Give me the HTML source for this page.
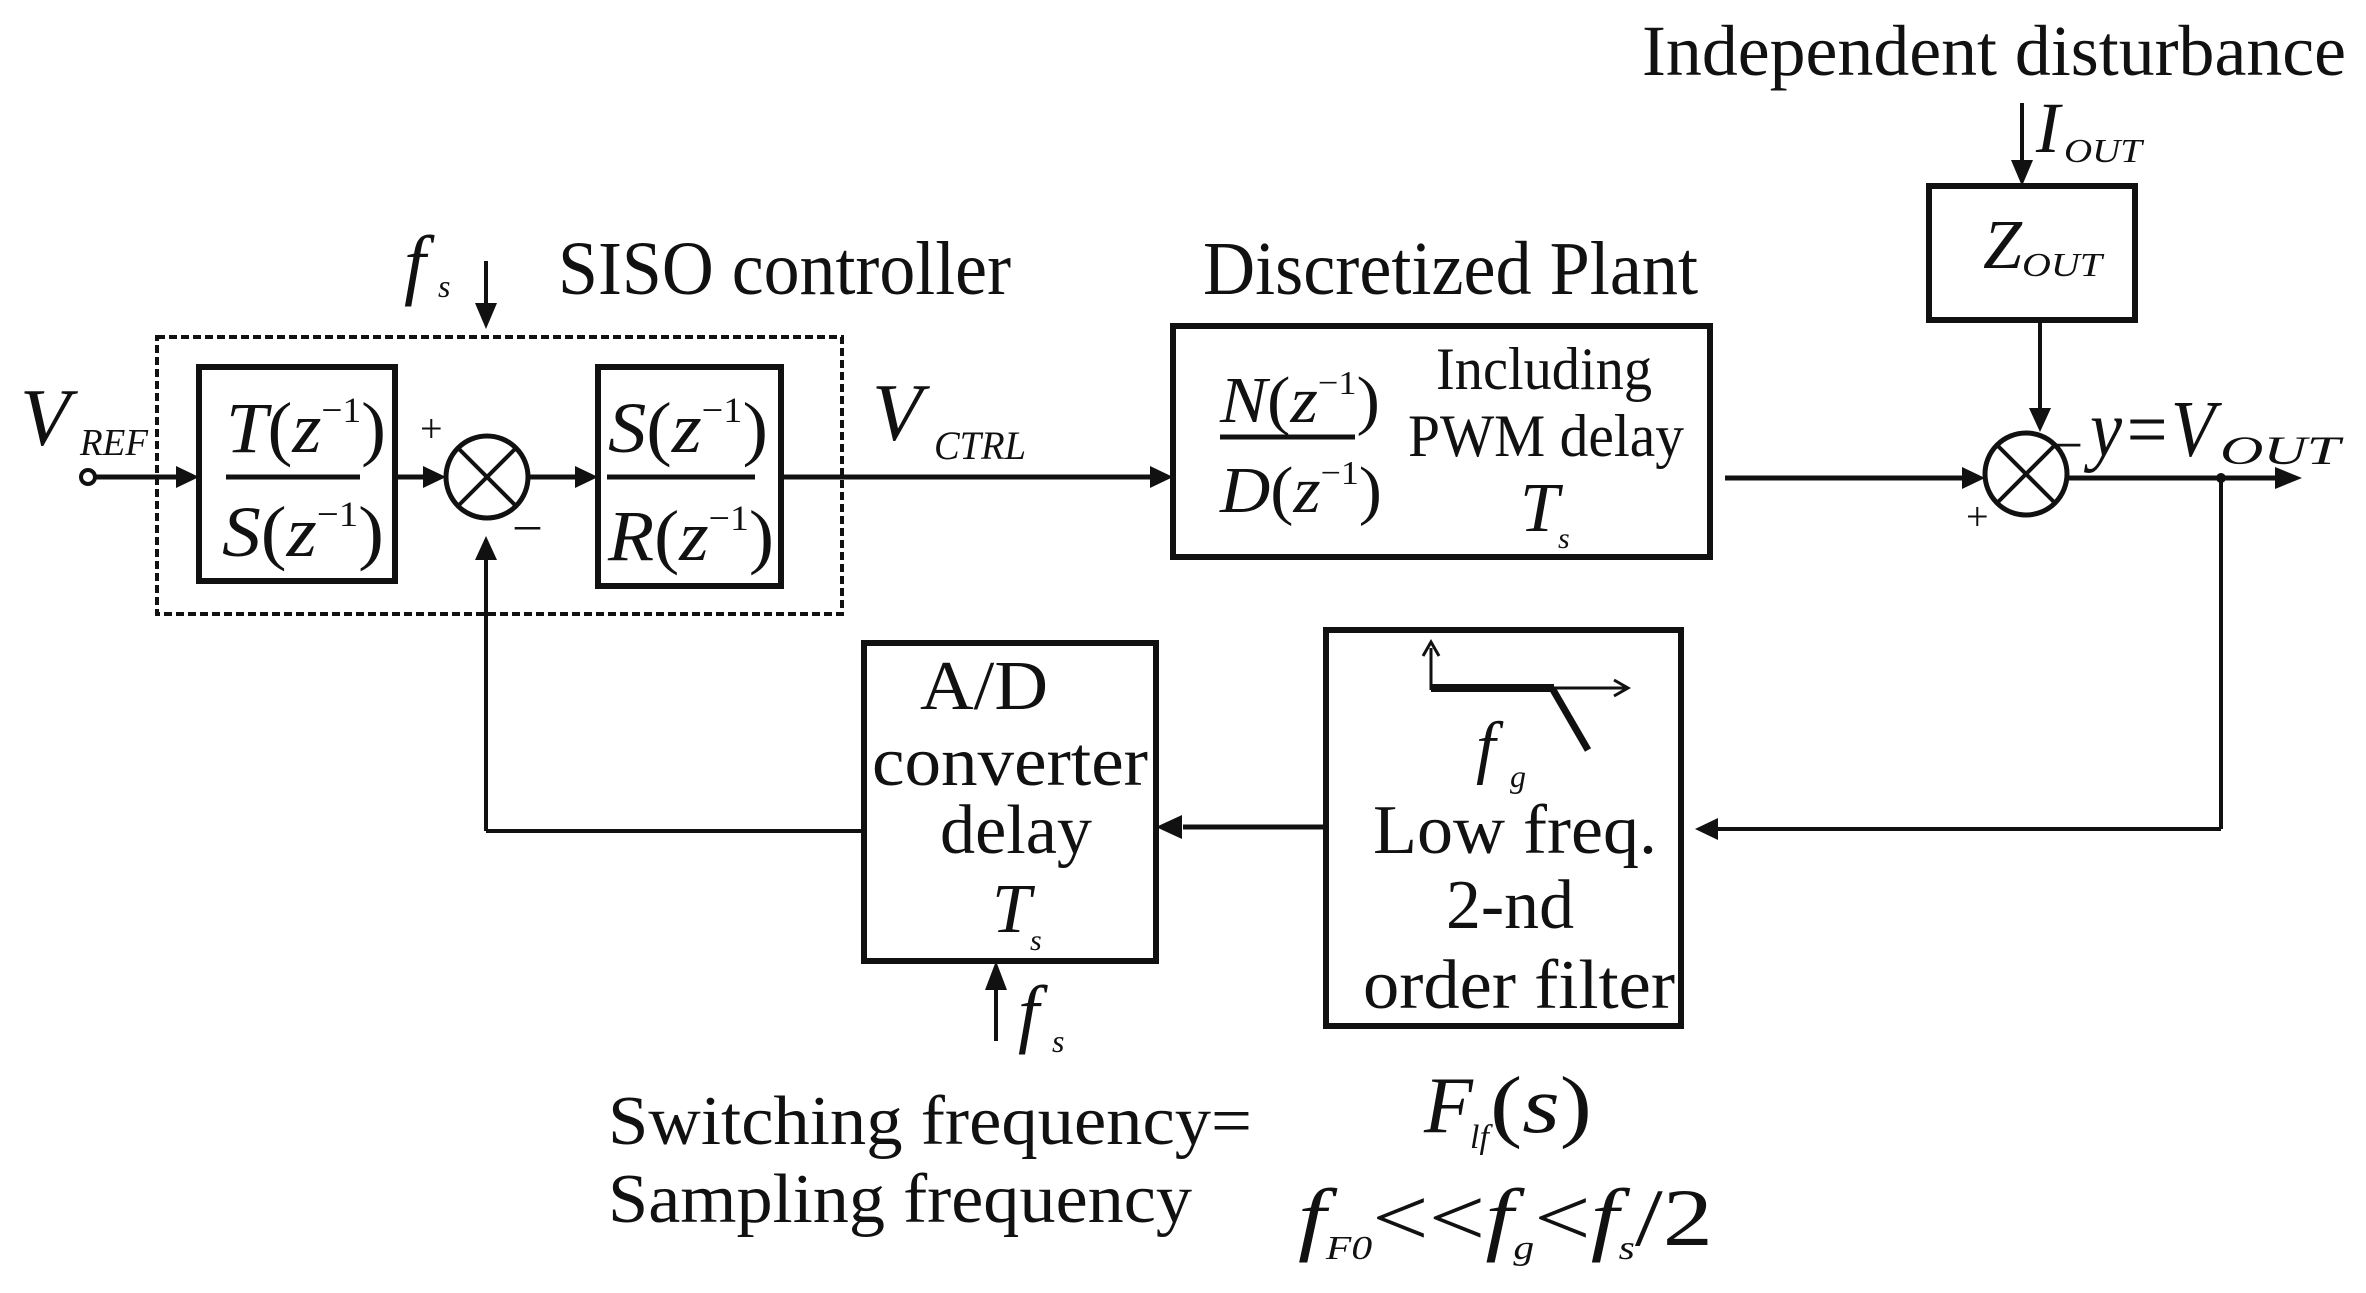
<!DOCTYPE html>
<html><head><meta charset="utf-8"><style>
html,body{margin:0;padding:0;background:#fff}
svg{display:block}
text{font-family:"Liberation Serif","Times New Roman",serif;fill:#111}
.i{font-style:italic}
</style></head><body>
<svg width="2366" height="1293" viewBox="0 0 2366 1293" xmlns="http://www.w3.org/2000/svg">
<g stroke="#111" fill="none" stroke-width="5">
<rect x="157" y="337" width="685" height="277" stroke-dasharray="8,4" stroke-width="4"/>
<rect x="199" y="367" width="196" height="214" stroke-width="6"/>
<rect x="598" y="367" width="183" height="219" stroke-width="6"/>
<rect x="1173" y="326" width="537" height="231" stroke-width="6"/>
<rect x="1929" y="186" width="206" height="134" stroke-width="6"/>
<rect x="1326" y="630" width="355" height="396" stroke-width="6"/>
<rect x="864" y="643" width="292" height="318" stroke-width="6"/>
<circle cx="487" cy="477" r="41"/>
<line x1="458" y1="448" x2="516" y2="506" stroke-width="4"/>
<line x1="516" y1="448" x2="458" y2="506" stroke-width="4"/>
<circle cx="2026" cy="474" r="41"/>
<line x1="1997" y1="445" x2="2055" y2="503" stroke-width="4"/>
<line x1="2055" y1="445" x2="1997" y2="503" stroke-width="4"/>
<line x1="93" y1="477" x2="185" y2="477"/>
<line x1="395" y1="477" x2="432" y2="477"/>
<line x1="528" y1="477" x2="585" y2="477"/>
<line x1="781" y1="477" x2="1158" y2="477"/>
<line x1="1725" y1="478" x2="1970" y2="478"/>
<line x1="2067" y1="478" x2="2275" y2="478"/>
<line x1="2221" y1="478" x2="2221" y2="829" stroke-width="4"/>
<line x1="2221" y1="829" x2="1710" y2="829" stroke-width="4"/>
<line x1="1326" y1="827" x2="1183" y2="827"/>
<line x1="864" y1="831" x2="486" y2="831" stroke-width="4"/>
<line x1="486" y1="831" x2="486" y2="540" stroke-width="4"/>
<line x1="2040" y1="320" x2="2040" y2="410" stroke-width="4"/>
<line x1="2022" y1="103" x2="2022" y2="160" stroke-width="4"/>
<line x1="486" y1="261" x2="486" y2="305" stroke-width="4"/>
<line x1="996" y1="1041" x2="996" y2="990" stroke-width="4"/>
<line x1="1431" y1="690" x2="1431" y2="648" stroke-width="3"/>
<line x1="1431" y1="688" x2="1554" y2="688" stroke-width="8"/>
<line x1="1554" y1="688" x2="1625" y2="688" stroke-width="3"/>
<line x1="1552" y1="688" x2="1588" y2="750" stroke-width="7"/>
<polyline points="1423,656 1431,642 1439,656" stroke-width="3"/>
<polyline points="1614,680 1628,688 1614,696" stroke-width="3"/>
</g>
<g fill="#111">
<circle cx="88" cy="477" r="7" fill="#fff" stroke="#111" stroke-width="4"/>
<circle cx="2221" cy="478" r="5"/>
<polygon points="199,477 176,466 176,488"/>
<polygon points="446,477 423,466 423,488"/>
<polygon points="598,477 575,466 575,488"/>
<polygon points="1173,477 1150,466 1150,488"/>
<polygon points="1985,478 1962,467 1962,489"/>
<polygon points="2302,478 2275,467 2275,489"/>
<polygon points="1695,829 1718,818 1718,840"/>
<polygon points="1156,827 1182,815 1182,839"/>
<polygon points="486,536 475,560 497,560"/>
<polygon points="2040,432 2029,408 2051,408"/>
<polygon points="2022,186 2011,160 2033,160"/>
<polygon points="486,329 475,303 497,303"/>
<polygon points="996,961 985,990 1007,990"/>
</g>
<g stroke="#111" stroke-width="5">
<line x1="226" y1="477" x2="360" y2="477"/>
<line x1="607" y1="477" x2="755" y2="477"/>
<line x1="1220" y1="437" x2="1355" y2="437"/>
</g>
<text x="1642" y="75" font-size="72" textLength="704" lengthAdjust="spacingAndGlyphs">Independent disturbance</text>
<text x="558" y="294" font-size="76" textLength="453" lengthAdjust="spacingAndGlyphs">SISO controller</text>
<text x="1203" y="294" font-size="76" textLength="495" lengthAdjust="spacingAndGlyphs">Discretized Plant</text>
<text x="404" y="290" font-size="78" class="i">f</text><text x="438" y="297" font-size="32" class="i">s</text>
<text x="20" y="445" font-size="82" class="i">V</text><text x="80" y="455" font-size="38" class="i" textLength="68" lengthAdjust="spacingAndGlyphs">REF</text>
<text x="872" y="440" font-size="82" class="i">V</text><text x="934" y="459" font-size="40" class="i" textLength="92" lengthAdjust="spacingAndGlyphs">CTRL</text>
<text x="420" y="442" font-size="40">+</text>
<text x="515" y="540" font-size="50">–</text>
<text x="1966" y="530" font-size="40">+</text>
<text x="2052" y="458" font-size="56">–</text>
<text x="226" y="452" font-size="72" textLength="160" lengthAdjust="spacingAndGlyphs"><tspan class="i">T</tspan>(<tspan class="i">z</tspan><tspan font-size="36" dy="-30">−1</tspan><tspan dy="30">)</tspan></text>
<text x="222" y="556" font-size="72" textLength="162" lengthAdjust="spacingAndGlyphs"><tspan class="i">S</tspan>(<tspan class="i">z</tspan><tspan font-size="36" dy="-30">−1</tspan><tspan dy="30">)</tspan></text>
<text x="608" y="452" font-size="72" textLength="160" lengthAdjust="spacingAndGlyphs"><tspan class="i">S</tspan>(<tspan class="i">z</tspan><tspan font-size="36" dy="-30">−1</tspan><tspan dy="30">)</tspan></text>
<text x="608" y="560" font-size="72" textLength="166" lengthAdjust="spacingAndGlyphs"><tspan class="i">R</tspan>(<tspan class="i">z</tspan><tspan font-size="36" dy="-30">−1</tspan><tspan dy="30">)</tspan></text>
<text x="1220" y="422" font-size="66" textLength="160" lengthAdjust="spacingAndGlyphs"><tspan class="i">N</tspan>(<tspan class="i">z</tspan><tspan font-size="34" dy="-28">−1</tspan><tspan dy="28">)</tspan></text>
<text x="1220" y="512" font-size="66" textLength="162" lengthAdjust="spacingAndGlyphs"><tspan class="i">D</tspan>(<tspan class="i">z</tspan><tspan font-size="34" dy="-28">−1</tspan><tspan dy="28">)</tspan></text>
<text x="1436" y="389" font-size="60" textLength="216" lengthAdjust="spacingAndGlyphs">Including</text>
<text x="1408" y="456" font-size="60" textLength="276" lengthAdjust="spacingAndGlyphs">PWM delay</text>
<text x="1520" y="531" font-size="70" class="i">T</text><text x="1558" y="548" font-size="30" class="i">s</text>
<text x="1983" y="268" font-size="70" class="i">Z</text><text x="2022" y="276" font-size="34" class="i" textLength="80" lengthAdjust="spacingAndGlyphs">OUT</text>
<text x="2036" y="152" font-size="72" class="i">I</text><text x="2064" y="162" font-size="34" class="i" textLength="78" lengthAdjust="spacingAndGlyphs">OUT</text>
<text x="2090" y="456" font-size="80" class="i" textLength="125" lengthAdjust="spacingAndGlyphs">y=V</text>
<text x="2220" y="464" font-size="40" class="i" textLength="120" lengthAdjust="spacingAndGlyphs">OUT</text>
<text x="920" y="709" font-size="70" textLength="128" lengthAdjust="spacingAndGlyphs">A/D</text>
<text x="872" y="785" font-size="70" textLength="276" lengthAdjust="spacingAndGlyphs">converter</text>
<text x="940" y="853" font-size="70" textLength="152" lengthAdjust="spacingAndGlyphs">delay</text>
<text x="992" y="932" font-size="70" class="i">T</text><text x="1030" y="950" font-size="30" class="i">s</text>
<text x="1476" y="770" font-size="70" class="i">f</text><text x="1510" y="787" font-size="32" class="i">g</text>
<text x="1373" y="853" font-size="70" textLength="284" lengthAdjust="spacingAndGlyphs">Low freq.</text>
<text x="1446" y="928" font-size="70" textLength="128" lengthAdjust="spacingAndGlyphs">2-nd</text>
<text x="1363" y="1008" font-size="70" textLength="312" lengthAdjust="spacingAndGlyphs">order filter</text>
<text x="1018" y="1038" font-size="76" class="i">f</text><text x="1052" y="1052" font-size="32" class="i">s</text>
<text x="608" y="1144" font-size="70" textLength="644" lengthAdjust="spacingAndGlyphs">Switching frequency=</text>
<text x="608" y="1222" font-size="70" textLength="584" lengthAdjust="spacingAndGlyphs">Sampling frequency</text>
<text x="1424" y="1132" font-size="80" class="i">F</text><text x="1470" y="1148" font-size="34" class="i">lf</text><text x="1490" y="1132" font-size="80" textLength="102" lengthAdjust="spacingAndGlyphs">(<tspan class="i">s</tspan>)</text>
<text x="1298" y="1245" font-size="82" textLength="415" lengthAdjust="spacingAndGlyphs"><tspan class="i">f</tspan><tspan font-size="34" class="i" dy="14">F0</tspan><tspan dy="-14">&lt;&lt;</tspan><tspan class="i">f</tspan><tspan font-size="34" class="i" dy="14">g</tspan><tspan dy="-14">&lt;</tspan><tspan class="i">f</tspan><tspan font-size="34" class="i" dy="14">s</tspan><tspan dy="-14">/2</tspan></text>
</svg>
</body></html>
